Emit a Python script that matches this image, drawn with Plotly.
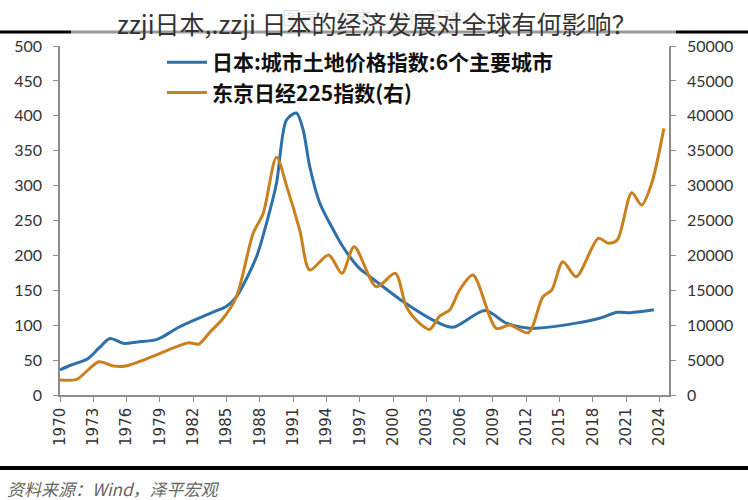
import plotly.graph_objects as go

# ---- data ----
land_years = [1970.0, 1971.0, 1972.5, 1973.5, 1974.5, 1975.7, 1977.0, 1978.6, 1979.2, 1980.7,
              1982.5, 1984.0, 1985.0, 1985.9, 1987.7, 1988.6, 1989.5, 1990.4, 1991.3, 1991.9,
              1992.5, 1993.4, 1994.3, 1995.5, 1997.0, 1997.9, 2000.9, 2003.9, 2005.4, 2008.3,
              2010.2, 2012.3, 2012.9, 2016.5, 2018.6, 2020.2, 2021.4, 2023.5]
land_index = [36, 43, 52, 67, 81, 74, 76, 79, 83, 97,
              110, 120, 127, 141, 198, 246, 303, 394, 404, 380,
              327, 275, 246, 212, 181, 170, 134, 105, 97, 121,
              103, 95.5, 95.5, 103, 110, 118.5, 118, 122]

nikkei_years = [1970.0, 1971.5, 1973.5, 1974.8, 1975.9, 1978.3, 1980.1, 1981.6, 1982.5, 1983.5,
                1984.7, 1985.9, 1987.4, 1988.3, 1989.5, 1990.5, 1991.6, 1992.5, 1994.2, 1995.4,
                1996.5, 1998.5, 2000.2, 2001.2, 2002.4, 2003.3, 2004.2, 2005.1, 2006.0, 2007.2,
                2009.3, 2010.5, 2012.2, 2013.5, 2014.3, 2015.3, 2016.5, 2018.5, 2019.4, 2020.2,
                2021.5, 2022.4, 2023.3, 2024.4]
nikkei_225 = [2150, 2250, 4770, 4150, 4150, 5490, 6690, 7500, 7300, 9000,
              11000, 14080, 23170, 26000, 34050, 29500, 23600, 17900, 20060, 17430,
              21250, 15500, 17430, 12650, 10270, 9400, 11300, 12180, 15040, 17190,
              9550, 10030, 8930, 14080, 15040, 19100, 16950, 22450, 21730, 22200,
              28980, 27220, 30330, 38200]

year_ticks = list(range(1970, 2025, 3))
left_ticks = list(range(0, 501, 50))
right_ticks = list(range(0, 50001, 5000))

name_land = "日本:城市土地价格指数:6个主要城市"
name_nikkei = "东京日经225指数(右)"
title_text = "zzji日本,.zzji 日本的经济发展对全球有何影响？"
watermark_text = "图表：股市、地价反弹"
source_text = "资料来源：Wind，泽平宏观"

BLUE = "#2f70a8"
ORANGE = "#c9801f"

fig = go.Figure()
fig.add_trace(go.Scatter(x=land_years, y=land_index, name=name_land, mode="lines",
                         line=dict(color=BLUE, width=3, shape="spline", smoothing=0.8),
                         legendgroup="a", yaxis="y"))
fig.add_trace(go.Scatter(x=nikkei_years, y=nikkei_225, name=name_nikkei, mode="lines",
                         line=dict(color=ORANGE, width=3, shape="spline", smoothing=0.8),
                         legendgroup="b", yaxis="y2"))

# plot area: x 60..669, y 46..395 (pixels)
L, R, T, B = 60, 669, 46, 395
W, H = R - L, B - T
def px(x):
    return (x - L) / W
def py(y):
    return (B - y) / H

axis_col = "#8c8c8c"
fig.update_layout(
    width=748, height=500,
    margin=dict(l=L, r=748 - R, t=T, b=500 - B),
    paper_bgcolor="white", plot_bgcolor="white",
    showlegend=True,
    legend=dict(x=px(162), y=py(42), xanchor="left", yanchor="top",
                font=dict(family="Noto Sans CJK SC", size=21, color="#111", weight="bold"),
                bgcolor="rgba(0,0,0,0)", itemwidth=40, tracegroupgap=0,
                traceorder="grouped"),
    xaxis=dict(range=[1970, 2024.86], tickmode="array", tickvals=year_ticks,
               ticktext=[str(y) for y in year_ticks], tickangle=-90,
               showgrid=False, zeroline=False, showline=True, linecolor=axis_col, linewidth=1.5,
               ticks="outside", ticklen=5, tickcolor=axis_col,
               tickfont=dict(family="DejaVu Sans", size=15, color="#333")),
    yaxis=dict(range=[0, 500], tickmode="array", tickvals=left_ticks,
               showgrid=False, zeroline=False, showline=True, linecolor=axis_col, linewidth=1.5,
               ticks="outside", ticklen=5, tickcolor=axis_col, ticklabelstandoff=8,
               tickfont=dict(family="Lato", size=16, color="#333")),
    yaxis2=dict(range=[0, 50000], tickmode="array", tickvals=right_ticks,
                ticktext=[str(v) for v in right_ticks], overlaying="y", side="right",
                showgrid=False, zeroline=False, showline=True, linecolor=axis_col, linewidth=1.5,
                ticks="outside", ticklen=5, tickcolor=axis_col, ticklabelstandoff=8,
                tickfont=dict(family="Lato", size=16, color="#333")),
)

# decorative frame lines (top and bottom rules)
top = py(32)
for (a, b, col) in [(0, 71, "black"), (71, 676, "#9a9a9a"), (676, 748, "black")]:
    fig.add_shape(type="line", xref="paper", yref="paper", x0=px(a), x1=px(b),
                  y0=top, y1=top, line=dict(width=3, color=col), layer="above")
fig.add_shape(type="line", xref="paper", yref="paper", x0=px(0), x1=px(748),
              y0=py(468), y1=py(468), line=dict(width=4, color="black"), layer="above")

# faint watermark heading
fig.add_annotation(xref="paper", yref="paper", x=px(372), y=py(2), yanchor="top", text=watermark_text,
                   showarrow=False, font=dict(family="Noto Sans CJK SC", size=18, color="rgba(0,0,0,0.12)"))
# overlaid title
fig.add_annotation(xref="paper", yref="paper", x=px(377), y=py(3), yanchor="top", text=title_text,
                   showarrow=False, font=dict(family="Noto Sans CJK SC", size=25, color="#333"))
# source note
fig.add_annotation(xref="paper", yref="paper", x=px(5), y=py(489), xanchor="left", yanchor="middle",
                   text=source_text, showarrow=False,
                   font=dict(family="Noto Sans CJK SC", size=17, color="#666", style="italic"))

fig.write_html("out.html", config={"displayModeBar": False},
               post_script="document.body.style.margin='0';")
